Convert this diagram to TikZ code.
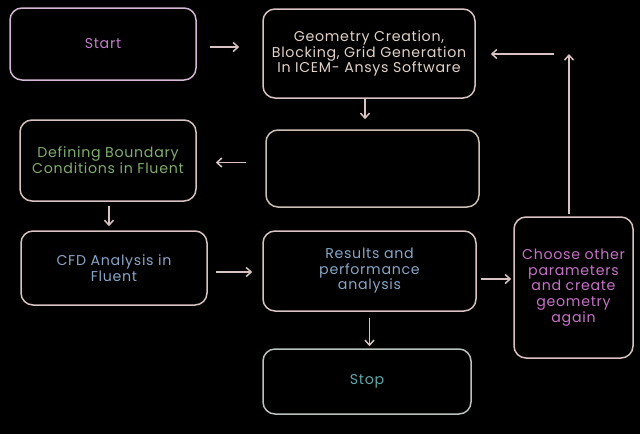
\documentclass[tikz,border=0pt]{standalone}
\usepackage{fontspec}
\setmainfont[LetterSpace=5]{Poppins}
\usetikzlibrary{arrows.meta}
\definecolor{edge}{HTML}{D8C2C2}
\definecolor{lil}{HTML}{D6B6D6}
\definecolor{tstart}{HTML}{C27CCB}
\definecolor{tgeom}{HTML}{E2D2C8}
\definecolor{tdef}{HTML}{7FAE6E}
\definecolor{tblue}{HTML}{86A6C8}
\definecolor{tstop}{HTML}{5FA8AA}
\definecolor{tchoose}{HTML}{C871C8}
\definecolor{stopedge}{HTML}{B9C2BC}
\tikzset{
  box/.style={draw=edge, line width=1.5pt, rounded corners=12pt, align=center,
    inner sep=2pt, font=\fontsize{14.2}{15.8}\selectfont},
  arr/.style={draw=edge, line width=1.5pt, -{Straight Barb[length=5pt,width=9pt]}}
}
\begin{document}
\begin{tikzpicture}[x=1pt,y=-1pt]
\fill[black] (0,0) rectangle (640,434);
\node[box, draw=lil, text=tstart, minimum width=186pt, minimum height=72pt] (start) at (103,44) {Start};
\node[box, text=tgeom, minimum width=212pt, minimum height=89pt] (geom) at (369,53.5) {Geometry Creation,\\Blocking, Grid Generation\\In ICEM- Ansys Software};
\node[box, draw=edge!85!tdef, minimum width=213pt, minimum height=77pt] (empty) at (372.5,168.5) {};
\node[box, text=tdef, minimum width=176pt, minimum height=81pt] (def) at (108,160.5) {Defining Boundary\\Conditions in Fluent};
\node[box, text=tblue, minimum width=186pt, minimum height=74pt] (cfd) at (114,268) {CFD Analysis in\\Fluent};
\node[box, text=tblue, minimum width=213pt, minimum height=80pt] (res) at (369.5,271) {\raisebox{5pt}{\begin{tabular}{@{}c@{}}Results and\\performance\\analysis\end{tabular}}};
\node[box, draw=stopedge, text=tstop, minimum width=208pt, minimum height=65pt] (stop) at (367,381.5) {Stop};
\node[box, text=tchoose, minimum width=119pt, minimum height=141pt] (choose) at (573.5,287.5) {Choose other\\parameters\\and create\\geometry\\again};
\coordinate (top) at (569,54);
\coordinate (back) at (554,54);
\draw[arr, shorten <=13pt, shorten >=23pt] ([yshift=-3pt]start.east) -- ([yshift=-3pt]start.east -| geom.west);
\draw[arr, shorten >=10pt] ([xshift=-4pt]geom.south) -- ([xshift=-4pt]geom.south |- empty.north);
\draw[arr, shorten <=19pt, shorten >=19pt] ([yshift=6pt]empty.west) -- ([yshift=6pt]empty.west -| def.east);
\draw[arr, shorten <=4pt, shorten >=4pt] ([xshift=1pt]def.south) -- ([xshift=1pt]def.south |- cfd.north);
\draw[arr, shorten <=8pt, shorten >=10pt] ([yshift=-4pt]cfd.east) -- ([yshift=-4pt]cfd.east -| res.west);
\draw[arr, shorten <=4pt, shorten >=2pt] ([yshift=-8pt]res.east) -- ([yshift=-8pt]res.east -| choose.west);
\draw[arr, shorten <=6pt, shorten >=2pt] (res.south) -- (res.south |- stop.north);
\draw[arr, shorten <=2pt] (choose.north -| top) -- (top);
\draw[arr, shorten >=15pt] (back) -- (back -| geom.east);
\end{tikzpicture}
\end{document}
